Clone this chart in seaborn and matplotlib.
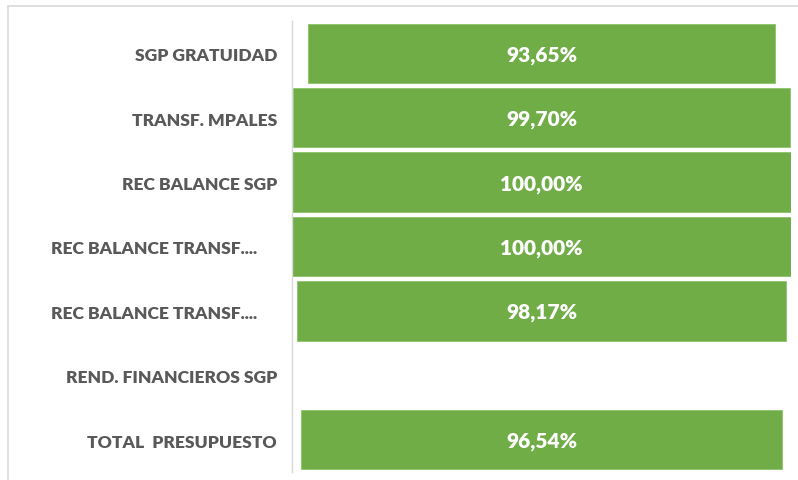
import matplotlib
matplotlib.use("Agg")
import matplotlib.pyplot as plt
import seaborn as sns
import pandas as pd
import numpy as np
from matplotlib.patches import Rectangle
from matplotlib.transforms import offset_copy

categories = ["SGP GRATUIDAD", "TRANSF. MPALES", "REC BALANCE SGP",
              "REC BALANCE TRANSF....", "REC BALANCE TRANSF....",
              "REND. FINANCIEROS SGP", "TOTAL  PRESUPUESTO"]
values = [93.65, 99.70, 100.00, 100.00, 98.17, np.nan, 96.54]
value_labels = ["93,65%", "99,70%", "100,00%", "100,00%", "98,17%", "", "96,54%"]
label_pad_px = [15, 15, 15, 35, 35, 15, 15]

sns.set_theme(style="white")
plt.rcParams["font.family"] = ["Lato", "DejaVu Sans"]

W, H = 798, 481
fig = plt.figure(figsize=(W / 100, H / 100), dpi=100)
fig.patch.set_facecolor("white")

# outer chart frame
fig.patches.append(Rectangle((8 / W, -0.1), 1.2, (H - 7) / H + 0.1, transform=fig.transFigure,
                             facecolor="none", edgecolor="#d9d9d9", linewidth=1.2))

ax_left, ax_right = 292 / W, 791 / W
ax_top, ax_bottom = 1 - 22 / H, 1 - 473 / H
ax = fig.add_axes([ax_left, ax_bottom, ax_right - ax_left, ax_top - ax_bottom])

df = pd.DataFrame({"cat": [f"c{i}" for i in range(len(categories))],
                   "value": values})
df["pad"] = (100 - df["value"]) / 2

ypos = np.arange(len(categories))
mask = ~np.isnan(df["value"].values)
ax.barh(ypos[mask], df["value"].values[mask], left=df["pad"].values[mask], height=0.92,
        color="#70AD47", edgecolor="#8cc46a", linewidth=0.6)
sns.despine(ax=ax, top=True, right=True, bottom=True, left=False)

ax.set_xlim(0, 100)
ax.set_ylim(len(categories) - 0.5, -0.5)
ax.set_xticks([])
ax.set_yticks([])
ax.spines["left"].set_color("#d9d9d9")
ax.spines["left"].set_linewidth(1.0)

for i, (v, lab) in enumerate(zip(values, value_labels)):
    if lab:
        tr = offset_copy(ax.transData, fig=fig, x=0, y=-1, units="dots")
        ax.text(50, i, lab, transform=tr, ha="center", va="center", color="white",
                fontsize=15, fontweight="heavy")

for i, (c, p) in enumerate(zip(categories, label_pad_px)):
    tr = offset_copy(ax.get_yaxis_transform(), fig=fig, x=-p, y=-2, units="dots")
    ax.text(0, i, c, transform=tr, ha="right", va="center", color="#595959",
            fontsize=12.6, fontweight="heavy")

fig.savefig("out.png", dpi=100, facecolor="white")
